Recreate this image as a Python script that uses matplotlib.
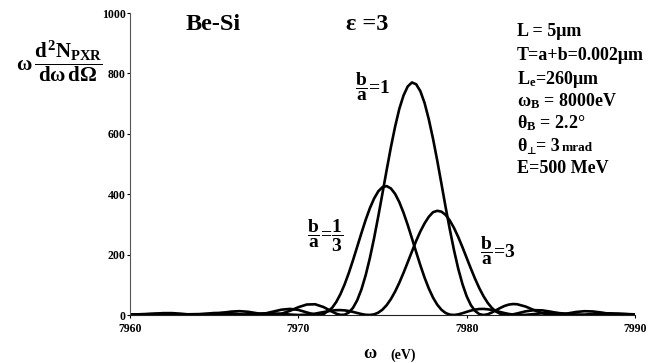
import matplotlib
matplotlib.use("Agg")
import matplotlib.pyplot as plt

plt.rcParams['font.family'] = ['Liberation Serif', 'DejaVu Serif']
plt.rcParams['font.weight'] = 'bold'
plt.rcParams['mathtext.fontset'] = 'custom'
plt.rcParams['mathtext.rm'] = 'Liberation Serif:bold'
plt.rcParams['mathtext.it'] = 'Liberation Serif:bold'
plt.rcParams['mathtext.bf'] = 'Liberation Serif:bold'

# photon energy grid (eV): 0.5 eV steps in the tails, 0.25 eV steps over the main lobes
omega = ([7960 + 0.5 * i for i in range(25)]
         + [7972.25 + 0.25 * i for i in range(44)]
         + [7983.5 + 0.5 * i for i in range(14)])

# b/a = 1
ba_1 = [0, 0.7, 2.5, 4.8, 6.2, 6.2, 4.4, 1.9, 0.2, 0.4, 3.1, 7.4, 11.2, 12.7, 10.7, 6.2,
        1.5, 0.1, 4.3, 13.8, 25.8, 34.7, 35.5, 26.3, 11.2,
        4.5, 0.4, 1.0, 8.3, 23.9, 49.1, 85, 131.7, 188.6, 254.4, 327, 403.5, 481, 556,
        624, 683, 727, 757, 770, 764, 741, 702, 648, 584, 512, 435, 357, 283, 214, 153,
        102.4, 62, 32.7, 13.4, 3.0, 0, 2.4, 8.3, 15.9, 23.5, 30, 34.4, 36.3, 35.6,
        28, 16.2, 5.8, 0.5, 0.9, 5.2, 10, 12.6, 11.7, 8.2, 3.9, 0.8, 0.05, 1.5]

# b/a = 1/3
ba_1_3 = [1.0, 2.3, 3.4, 3.5, 2.6, 1.2, 0.1, 0.3, 1.9, 4.4, 6.5, 7.0, 5.4, 2.5, 0.3, 0.6,
          4.6, 11.2, 17.6, 20.2, 16.8, 8.6, 1.0, 2.8, 23.3,
          42.9, 69, 101.5, 139.5, 181.8, 226.6, 271.6, 315, 353.6, 385.6, 409.6, 423.5,
          426.8, 419, 401, 373.7, 338.5, 297.8, 253.6, 208.4, 164.5, 123.7, 87.8, 57.8,
          34.3, 17.4, 6.6, 1.2, 0.05, 2.0, 5.9, 10.4, 14.6, 17.9, 19.8, 20.1, 18.9, 16.5,
          13.3, 9.8, 6.4, 3.5, 1.5, 0.3,
          0.5, 3.1, 5.8, 7.0, 6.2, 3.9, 1.5, 0.1, 0.2, 1.5, 2.8, 3.5, 3.2, 2.1]

# b/a = 3
ba_3 = [1.7, 1.4, 0.8, 0.2, 0, 0.5, 1.4, 2.4, 2.9, 2.6, 1.6, 0.5, 0, 0.6, 2.2, 4.2,
        5.5, 5.4, 3.8, 1.5, 0, 0.9, 4.5, 9.8, 14.6,
        16.0, 16.2, 15.3, 13.2, 10.2, 6.7, 3.2, 0.7, 0.1, 2.1, 7.8, 17.9, 32.8, 52.9,
        77.7, 107, 139.8, 174.8, 210.4, 245.4, 276.8, 303.5, 325.2, 340.3, 345, 342.2,
        331.6, 312.7, 288.1, 258.2, 224.5, 189, 153.6, 119.8, 89, 62.3, 40.2, 23.2,
        11.3, 3.9, 0.5, 0.2, 2.1, 5.2,
        12.1, 16, 15.3, 10.9, 5.5, 1.4, 0, 1.1, 3.3, 5.2, 5.6, 4.5, 2.6, 0.8]

x_ticks = [7960, 7970, 7980, 7990]
y_ticks = [0, 200, 400, 600, 800, 1000]

W, H = 672, 363
fig = plt.figure(figsize=(W / 100, H / 100), dpi=100)

def px(x, y):
    return x / W, 1 - y / H

ax = fig.add_axes([130 / W, (H - 315) / H, (635 - 130) / W, (315 - 13) / H])
for s in (ba_1, ba_1_3, ba_3):
    ax.plot(omega, s, color='black', lw=1.9, solid_joinstyle='round')

ax.set_xlim(7960, 7990)
ax.set_ylim(0, 1000)
ax.set_xticks(x_ticks)
ax.set_yticks(y_ticks)
ax.spines['top'].set_visible(False)
ax.spines['right'].set_visible(False)
ax.spines['left'].set_color('#555555')
ax.spines['bottom'].set_color('#222222')
ax.tick_params(axis='both', labelsize=8.5, length=2, width=0.8, pad=4)
ax.tick_params(axis='y', pad=1)
for lab in ax.get_xticklabels() + ax.get_yticklabels():
    lab.set_fontweight('bold')

# y label
fig.text(*px(16, 61), r'$\omega\,\dfrac{d^2N_{PXR}}{d\omega\, d\Omega}$', fontsize=15,
         ha='left', va='center')

# x label
fig.text(*px(363, 354), r'$\omega$', fontsize=13, ha='left', va='center')
fig.text(*px(390, 355), '(eV)', fontsize=10, ha='left', va='center')

# titles
fig.text(*px(186, 25), 'Be-Si', fontsize=17.5, ha='left', va='center')
fig.text(*px(346, 25), 'ε =3', fontsize=17.5, ha='left', va='center')

# parameter block
fs = 13
params = [
    (517, 32, 'L = 5μm'),
    (517, 55, 'T=a+b=0.002μm'),
    (517, 79, 'L$_e$=260μm'),
    (517, 101, 'ω$_B$ = 8000eV'),
    (517, 123, 'θ$_B$ = 2.2°'),
    (517, 169, 'E=500 MeV'),
]
for x, y, t in params:
    fig.text(*px(x, y), t, fontsize=fs, ha='left', va='center')
fig.text(*px(517, 146), 'θ', fontsize=fs, ha='left', va='center')
fig.text(*px(526, 151), '⊥', fontsize=7.5, ha='left', va='center',
         family=['DejaVu Sans'], weight='bold')
fig.text(*px(536, 146), '= 3', fontsize=fs, ha='left', va='center')
fig.text(*px(562, 148), 'mrad', fontsize=9.5, ha='left', va='center')

# curve labels
fig.text(*px(355, 87), r'$\dfrac{b}{a}$=1', fontsize=14, ha='left', va='center')
fig.text(*px(307, 236), r'$\dfrac{b}{a}$=$\dfrac{1}{3}$', fontsize=14, ha='left', va='center')
fig.text(*px(480, 251), r'$\dfrac{b}{a}$=3', fontsize=14, ha='left', va='center')

fig.savefig('out.png', dpi=100)
